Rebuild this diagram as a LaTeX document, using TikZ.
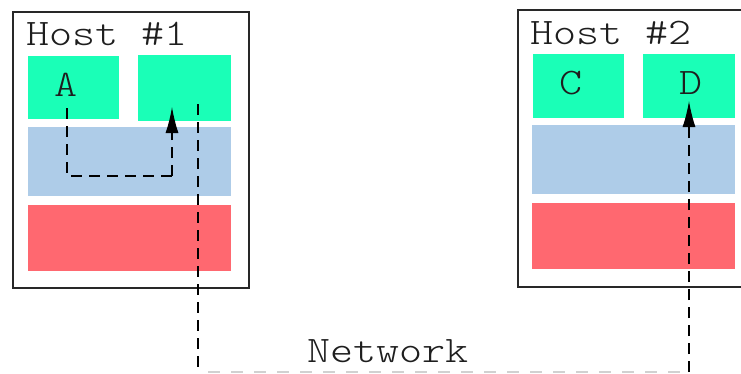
\documentclass[tikz,border=0pt]{standalone}
\usepackage{fontspec}
\newfontfamily\monofont[FakeStretch=1.17]{lmmonolt10-regular.otf}
\usetikzlibrary{arrows.meta}
\definecolor{tealg}{RGB}{26,255,183}
\definecolor{lblue}{RGB}{174,204,232}
\definecolor{lred}{RGB}{255,104,112}
\definecolor{txt}{RGB}{30,30,30}
\definecolor{frame}{RGB}{40,40,40}
\tikzset{
  hostbox/.style={draw=frame, line width=1.5pt, fill=white, inner sep=0pt, anchor=north west},
  gbox/.style={fill=tealg, inner sep=0pt, anchor=north west},
  bbox/.style={fill=lblue, inner sep=0pt, anchor=north west},
  rbox/.style={fill=lred, inner sep=0pt, anchor=north west},
  lbl/.style={font=\monofont\fontsize{37.5}{40}\selectfont, text=txt, inner sep=0pt},
  dl/.style={line width=1.3pt, black, dash pattern=on 11pt off 7pt},
  gl/.style={line width=1.6pt, black!18, dash pattern=on 12pt off 11pt},
  tip/.style={-{Latex[length=26pt,width=13pt]}}
}
\begin{document}
\begin{tikzpicture}[x=1pt,y=-1pt]
\useasboundingbox (0,0) rectangle (741,373);
\clip (0,0) rectangle (741,373);
% Host 1
\node[hostbox, minimum width=236pt, minimum height=276pt] (h1) at (12,11) {};
\node[lbl, anchor=base west] (t1) at (26,45) {Host \#1};
\node[gbox, minimum width=91pt, minimum height=63pt] (a) at (28,56) {};
\node[gbox, minimum width=93pt, minimum height=66pt] (b) at (138,55) {};
\node[bbox, minimum width=203pt, minimum height=69pt] (l1) at (28,127) {};
\node[rbox, minimum width=203pt, minimum height=66pt] (p1) at (28,205) {};
\node[lbl, anchor=base] (la) at (66.5,96) {A};
% Host 2
\node[hostbox, minimum width=236pt, minimum height=277pt] (h2) at (517,9) {};
\node[lbl, anchor=base west] (t2) at (530.5,44.5) {Host \#2};
\node[gbox, minimum width=91pt, minimum height=64pt] (c) at (533,54) {};
\node[gbox, minimum width=92pt, minimum height=64pt] (d) at (643,54) {};
\node[bbox, minimum width=203pt, minimum height=69pt] (l2) at (532,125) {};
\node[rbox, minimum width=203pt, minimum height=66pt] (p2) at (532,203) {};
\node[lbl, anchor=base] (lc) at (571,94.5) {C};
\node[lbl, anchor=base] (ld) at (691,94.5) {D};
% Network label
\node[lbl, anchor=base] (net) at (388,362) {Network};
% local connector A -> B
\coordinate (sA) at (67,108);
\coordinate (cA1) at (67,176);
\coordinate (cA2) at (172,176);
\coordinate (tA) at (172,107);
\draw[dl] (sA) -- (cA1) -- (cA2);
\draw[dl, tip] (cA2) -- (tA);
% network connector
\coordinate (sN) at (198,104);
\coordinate (bN1) at (198,372);
\coordinate (bN2) at (689,372);
\coordinate (tN) at (689,101);
\draw[gl] (bN1) ++(10,0) -- (bN2);
\draw[dl] (sN) -- (bN1);
\draw[dl, tip] (bN2) -- (tN);
\end{tikzpicture}
\end{document}
